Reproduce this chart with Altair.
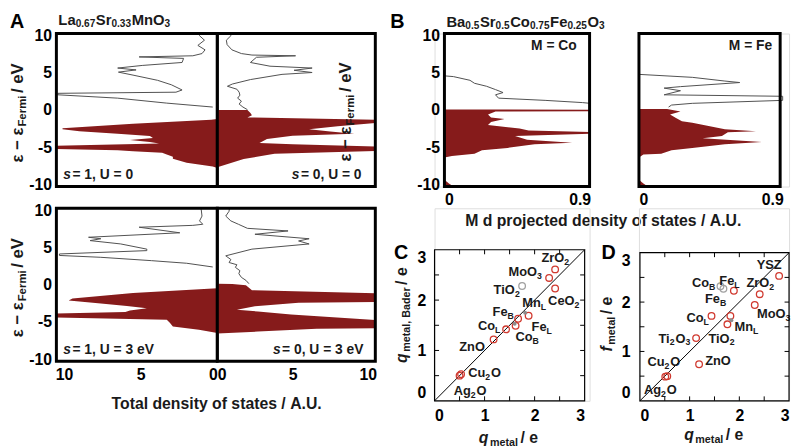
import altair as alt
import pandas as pd

FONT = "Liberation Sans"
FILL = "#861b1b"
LINE = "#4f4f4f"
RED = "#d0392f"
GRAY = "#a0a0a0"
INK = "#1a1a1a"
NB = "\u00a0"

# ---------------- Panel A : total DOS (E in eV, DOS in A.U.) ----------------
# s = 1, U = 0 (left half, top)
A_TL_LINE_E = [10.3, 10.0, 9.4, 8.7, 8.1, 7.6, 7.3, 7.15, 6.95, 6.4, 6.0, 5.65, 5.4, 5.1, 4.7, 4.0, 3.4, 2.7, 2.4, 2.25, 2.05, 1.6, 0.93, 0.4]
A_TL_LINE_D = [1.2, 1.16, 0.84, 1.27, 0.8, 1.0, 1.6, 5.1, 2.2, 2.3, 4.9, 6.5, 5.3, 6.45, 5.5, 3.9, 3.0, 2.3, 2.7, 10.4, 10.4, 6.5, 3.3, 0.3]
A_TL_FILL_E = [-1.2, -1.3, -1.83, -2.45, -2.6, -2.85, -3.2, -3.5, -3.75, -4.05, -4.3, -4.5, -4.8, -5.25, -5.4, -5.55, -5.75, -6.0, -6.3, -6.55, -7.1, -7.6, -7.8]
A_TL_FILL_D = [0.0, 0.4, 5.5, 10.1, 10.1, 9.0, 6.5, 4.4, 4.2, 5.7, 4.4, 3.8, 10.5, 10.5, 6.5, 5.5, 3.6, 3.3, 2.9, 2.9, 2.0, 0.3, 0.0]
# s = 0, U = 0 (right half, top)
A_TR_LINE_E = [10.3, 10.0, 9.4, 8.8, 8.1, 7.6, 7.4, 7.3, 7.1, 6.4, 5.9, 5.65, 5.35, 5.05, 4.8, 4.1, 3.5, 3.2, 2.8, 2.4, 2.0, 1.6, 1.2, 0.8, 0.4, 0.05]
A_TR_LINE_D = [0.9, 0.9, 0.6, 0.65, 0.97, 1.6, 2.3, 5.2, 2.6, 2.2, 3.5, 6.3, 5.1, 6.3, 4.3, 2.2, 1.0, 0.67, 1.3, 1.45, 1.5, 1.35, 1.6, 1.45, 1.7, 2.0]
A_TR_FILL_E = [0.02, 0.0, -0.4, -0.7, -1.0, -1.3, -1.75, -2.2, -2.6, -2.9, -3.2, -3.45, -3.9, -4.45, -4.6, -4.9, -5.5, -5.9, -6.6, -7.7]
A_TR_FILL_D = [0.0, 2.0, 2.2, 2.3, 2.0, 10.5, 10.5, 8.0, 6.1, 7.5, 9.1, 5.0, 3.3, 2.8, 5.0, 10.5, 10.5, 3.8, 1.75, 0.0]
# s = 1, U = 3 eV (left half, bottom)
A_BL_LINE_E = [10.3, 10.1, 9.25, 8.6, 8.15, 8.0, 7.75, 7.0, 6.4, 6.2, 5.95, 5.5, 4.8, 4.6, 4.15, 3.95, 3.7, 3.25, 2.9, 2.4]
A_BL_LINE_D = [1.1, 1.05, 1.0, 1.16, 0.95, 1.6, 5.1, 2.45, 8.4, 7.6, 8.3, 6.3, 4.6, 4.6, 10.3, 10.3, 7.6, 4.3, 2.0, 0.3]
A_BL_FILL_E = [-0.45, -1.1, -1.85, -2.1, -2.5, -2.85, -3.15, -3.45, -3.65, -3.85, -4.4, -4.7, -5.1, -5.6, -6.05, -6.5]
A_BL_FILL_D = [0.0, 5.5, 9.45, 9.7, 7.6, 5.9, 4.6, 5.7, 6.0, 10.5, 10.5, 3.3, 3.1, 2.9, 1.2, 0.0]
# s = 0, U = 3 eV (right half, bottom)
A_BR_LINE_E = [10.3, 9.9, 9.25, 8.6, 8.15, 7.6, 7.25, 6.8, 6.2, 5.9, 5.5, 4.8, 3.9, 3.4, 3.0, 2.7, 2.35, 1.9, 1.5, 1.0, 0.6, 0.15]
A_BR_LINE_D = [0.8, 0.78, 0.56, 0.9, 1.4, 2.0, 4.7, 2.5, 6.1, 5.4, 6.1, 2.3, 0.56, 0.9, 0.78, 1.3, 1.2, 1.5, 1.43, 1.6, 1.9, 2.1]
A_BR_FILL_E = [0.15, 0.1, -0.07, -0.73, -1.15, -2.3, -2.4, -2.9, -3.35, -3.6, -4.0, -4.75, -5.85, -5.9, -6.3, -6.55]
A_BR_FILL_D = [0.0, 1.0, 1.9, 2.3, 10.5, 10.5, 5.4, 2.5, 1.3, 2.7, 4.9, 10.5, 10.5, 6.6, 2.7, 0.0]

# ---------------- Panel B : M d projected DOS ----------------
B_CO_LINE_E = [4.6, 4.5, 4.0, 3.6, 3.2, 2.75, 2.35, 2.05, 1.6, 1.3, 1.0, 0.9]
B_CO_LINE_D = [0.0, 0.06, 0.17, 0.2, 0.28, 0.34, 0.39, 0.34, 0.36, 0.67, 0.92, 0.97]
B_CO_FILL_E = [0.08, 0.05, -0.15, -0.2, -0.6, -1.0, -1.2, -1.6, -2.0, -2.5, -2.75, -2.95, -3.2, -3.5, -4.0, -4.4, -4.6, -5.1, -5.4, -5.9, -6.2, -6.4, -9.4, -9.9, -10.3]
B_CO_FILL_D = [0.0, 0.97, 0.97, 0.34, 0.29, 0.31, 0.4, 0.31, 0.29, 0.5, 0.56, 0.97, 0.97, 0.47, 0.55, 0.85, 0.6, 0.42, 0.25, 0.2, 0.05, 0.0, 0.0, 0.03, 0.06]
B_FE_LINE_E = [4.8, 4.4, 3.9, 3.7, 3.15, 2.95, 2.6, 2.05, 1.85, 1.3, 0.9, 0.67, 0.4]
B_FE_LINE_D = [0.0, 0.36, 0.58, 0.68, 0.28, 0.17, 0.28, 0.17, 0.97, 0.97, 0.36, 0.22, 0.2]
B_FE_FILL_E = [0.15, 0.13, -0.2, -0.6, -1.07, -1.5, -1.7, -2.6, -2.85, -3.0, -3.5, -3.8, -4.3, -4.6, -5.1, -5.4, -5.9, -6.0, -6.4, -9.4, -9.9, -10.3]
B_FE_FILL_D = [0.0, 0.19, 0.28, 0.21, 0.25, 0.29, 0.36, 0.58, 0.79, 0.6, 0.56, 0.43, 0.83, 0.58, 0.36, 0.22, 0.15, 0.03, 0.0, 0.0, 0.03, 0.06]

# ---------------- Panel C : q_metal,Bader vs q_metal ----------------
C_RED_X = [2.41, 2.29, 2.41, 1.88, 1.67, 1.43, 1.62, 1.18, 0.50, 0.53]
C_RED_Y = [2.61, 2.44, 2.23, 1.69, 1.63, 1.42, 1.49, 1.22, 0.50, 0.53]
C_GOPEN_X = [1.75]
C_GOPEN_Y = [2.28]
C_GDOT_X = [1.81, 1.60]
C_GDOT_Y = [1.75, 1.53]
C_LAB = ["ZrO_2", "MoO_3", "TiO_2", "Mn_L", "CeO_2", "Fe_B", "Co_L", "Fe_L", "Co_B", "ZnO", "Cu_2O", "Ag_2O"]
C_LAB_X = [2.42, 1.82, 1.45, 2.00, 2.59, 1.38, 1.10, 2.15, 1.86, 0.75, 1.00, 0.71]
C_LAB_Y = [2.84, 2.55, 2.20, 1.94, 1.98, 1.76, 1.49, 1.47, 1.27, 1.06, 0.55, 0.20]

# ---------------- Panel D : f_metal vs q_metal ----------------
D_RED_X = [2.80, 2.41, 2.31, 1.89, 1.44, 1.82, 1.76, 1.13, 1.19, 0.51, 0.55]
D_RED_Y = [2.53, 2.16, 1.94, 2.23, 1.72, 1.72, 1.55, 1.27, 0.74, 0.49, 0.50]
D_GOPEN_X = [1.62, 1.68]
D_GOPEN_Y = [2.32, 2.27]
D_GDOT_X = [1.84]
D_GDOT_Y = [1.63]
D_LAB = ["YSZ", "ZrO_2", "MoO_3", "Co_B", "Fe_L", "Fe_B", "Co_L", "Mn_L", "TiO_2", "Ti_2O_3", "Cu_2O", "ZnO", "Ag_2O"]
D_LAB_X = [2.60, 2.43, 2.70, 1.29, 1.81, 1.53, 1.17, 2.15, 1.65, 0.70, 0.48, 1.57, 0.41]
D_LAB_Y = [2.74, 2.38, 1.76, 2.38, 2.42, 2.06, 1.68, 1.50, 1.26, 1.26, 0.78, 0.80, 0.22]

SCATTER_TICKS = [0.5, 1.0, 1.5, 2.0, 2.5]

# ---------------- helpers ----------------
ONE = pd.DataFrame({"k": [0]})
SUB = 0.68

CW = {' ': 278, NB: 278, ',': 278, '-': 333, '.': 278, '/': 278, '=': 584, '−': 584, 'ε': 500,
      'A': 722, 'B': 722, 'C': 722, 'D': 722, 'E': 667, 'F': 611, 'L': 611, 'M': 833,
      'O': 778, 'S': 667, 'T': 611, 'U': 722, 'V': 667, 'Y': 667, 'Z': 611,
      'a': 556, 'b': 611, 'c': 556, 'd': 611, 'e': 556, 'f': 333, 'g': 611, 'i': 278,
      'j': 278, 'l': 278, 'm': 889, 'n': 611, 'o': 611, 'p': 611, 'q': 611, 'r': 389,
      's': 556, 't': 333, 'u': 611, 'y': 556, 'z': 500}
for _d in "0123456789":
    CW[_d] = 556


def tw(s, size):
    return sum(CW.get(c, 556) for c in s) * size / 1000.0


def parse(label):
    pieces, buf, i = [], "", 0
    while i < len(label):
        if label[i] == "_":
            if buf:
                pieces.append((buf, "n"))
                buf = ""
            pieces.append((label[i + 1], "s"))
            i += 2
        else:
            buf += label[i]
            i += 1
    if buf:
        pieces.append((buf, "n"))
    return pieces


def rich_px(pieces, x, y, size, align="left", angle=0, color=INK, sub_gap=1.2):
    pieces = [(t.replace(" ", NB), st) for t, st in pieces]
    sizes = [size * SUB if st == "s" else size for _, st in pieces]
    extra = {"i": 1.5, "s": sub_gap, "n": 0.0}
    widths = [tw(t, sz) + extra[st] for (t, st), sz in zip(pieces, sizes)]
    total = sum(widths)
    off = {"left": 0.0, "center": -total / 2, "right": -total}[align]
    layers = []
    for (t, st), sz, w in zip(pieces, sizes, widths):
        kw = dict(text=t, font=FONT, fontSize=sz, fontWeight="bold", align="left",
                  baseline="middle", color=color, dx=off)
        if angle:
            kw["angle"] = angle
        if st == "s":
            kw["dy"] = size * 0.3
        if st == "i":
            kw["fontStyle"] = "italic"
        layers.append(alt.Chart(ONE).mark_text(**kw).encode(x=alt.value(x), y=alt.value(y)))
        off += w
    return layers


def letter(ch, x, y):
    return alt.Chart(ONE).mark_text(text=ch, font=FONT, fontSize=20, fontWeight="bold",
                                    align="left", baseline="top", color="black").encode(
        x=alt.value(x), y=alt.value(y))


def frame(width, x0=0, x1="width", y0=0, y1="height"):
    return alt.Chart(ONE).mark_rect(fillOpacity=0, stroke="black", strokeWidth=width).encode(
        x=alt.value(x0), x2=alt.value(x1), y=alt.value(y0), y2=alt.value(y1))


def axis(values, pad, show=True, offset=None):
    if not show:
        return None
    kw = dict(values=values, labelExpr="'' + datum.value", ticks=False, tickSize=0,
              domain=False, grid=False, labelPadding=pad, title="", labelFont=FONT,
              labelFontSize=16, labelFontWeight="bold", labelColor="black",
              labelFlush=True, labelOverlap=False)
    if offset is not None:
        kw["offset"] = offset
    return alt.Axis(**kw)


EPS = [("ε − ε", "n"), ("Fermi", "s"), (" / eV", "n")]


def dos_panel(fe, fd, le, ld, w, h, dmax, yshow, xvals, extra, xshow,
              reverse=False, xr=None, yoff=None, box=None):
    if xr is None:
        xs = alt.Scale(domain=[0, dmax], reverse=reverse, nice=False, zero=False)
    else:
        xs = alt.Scale(domain=[0, dmax], range=xr, nice=False, zero=False)
    ys = alt.Scale(domain=[-10.3, 10.3], nice=False, zero=False)
    xa = axis(xvals, 5, xshow)
    ya = axis([-10, -5, 0, 5, 10], 5, yshow, yoff)
    fill = pd.DataFrame({"E": fe, "D": fd})
    line = pd.DataFrame({"E": le, "D": ld, "i": list(range(len(le)))})
    area = alt.Chart(fill).mark_area(orient="horizontal", color=FILL, clip=True).encode(
        x=alt.X("D:Q", scale=xs, axis=xa, stack=None),
        y=alt.Y("E:Q", scale=ys, axis=ya))
    ln = alt.Chart(line).mark_line(color=LINE, strokeWidth=1, clip=True).encode(
        x=alt.X("D:Q", scale=xs, axis=xa, stack=None),
        y=alt.Y("E:Q", scale=ys, axis=ya),
        order=alt.Order("i:Q"))
    fr = frame(3) if box is None else frame(3, *box)
    return alt.layer(area, ln, *extra, fr).properties(width=w, height=h)


def s_label(s_val, u_val, x, y, align):
    return rich_px([("s", "i"), (" = %s, U = %s" % (s_val, u_val), "n")], x, y, 14, align=align)


def scatter_panel(w, h, xr, yr, rx, ry, gx, gy, dx_, dy_, labs, lx, ly, extra):
    xsc = alt.Scale(domain=[0, 3], range=xr, nice=False, zero=False)
    ysc = alt.Scale(domain=[0, 3], range=yr, nice=False, zero=False)
    xa = axis([0, 1, 2, 3], 7)
    ya = axis([0, 1, 2, 3], 9)

    def enc(ch):
        return ch.encode(x=alt.X("x:Q", scale=xsc, axis=xa), y=alt.Y("y:Q", scale=ysc, axis=ya))

    diag = enc(alt.Chart(pd.DataFrame({"x": [0, 3], "y": [0, 3]})).mark_line(color="black", strokeWidth=1))
    rows = []
    for t in SCATTER_TICKS:
        rows += [dict(x=t, y=0, x2=t, y2=0.09), dict(x=t, y=3, x2=t, y2=2.91),
                 dict(x=0, y=t, x2=0.09, y2=t), dict(x=3, y=t, x2=2.91, y2=t)]
    ticks = alt.Chart(pd.DataFrame(rows)).mark_rule(color="black", strokeWidth=1).encode(
        x=alt.X("x:Q", scale=xsc, axis=xa), y=alt.Y("y:Q", scale=ysc, axis=ya), x2="x2:Q", y2="y2:Q")
    red = enc(alt.Chart(pd.DataFrame({"x": rx, "y": ry})).mark_point(
        shape="circle", filled=False, color=RED, size=45, strokeWidth=1.3, opacity=1))
    gop = enc(alt.Chart(pd.DataFrame({"x": gx, "y": gy})).mark_point(
        shape="circle", filled=False, color=GRAY, size=45, strokeWidth=1.3, opacity=1))
    gdt = enc(alt.Chart(pd.DataFrame({"x": dx_, "y": dy_})).mark_point(
        shape="circle", filled=True, color="#8c8c8c", size=16, opacity=1))
    size = 13
    ppu = (xr[1] - xr[0]) / 3.0
    nrows, srows = [], []
    for lab, cx, cy in zip(labs, lx, ly):
        pcs = parse(lab)
        wds = [tw(t, size * (SUB if st == "s" else 1)) + (0.8 if st == "s" else 0) for t, st in pcs]
        off = -sum(wds) / 2
        for (t, st), wd in zip(pcs, wds):
            (srows if st == "s" else nrows).append({"x": cx + off / ppu, "y": cy, "t": t})
            off += wd
    tn = enc(alt.Chart(pd.DataFrame(nrows)).mark_text(
        font=FONT, fontSize=size, fontWeight="bold", align="left", baseline="middle", color=INK)).encode(text="t:N")
    ts = enc(alt.Chart(pd.DataFrame(srows)).mark_text(
        font=FONT, fontSize=size * SUB, fontWeight="bold", align="left", baseline="middle",
        color=INK, dy=size * 0.3)).encode(text="t:N")
    fr = frame(1.2, xr[0], xr[1], yr[1], yr[0])
    return alt.layer(ticks, diag, red, gop, gdt, tn, ts, *extra, fr).properties(width=w, height=h)


def spacer(w, h):
    return alt.Chart(ONE).mark_point(opacity=0).properties(width=w, height=h)


# ---------------- build panels ----------------
A_tl = dos_panel(A_TL_FILL_E, A_TL_FILL_D, A_TL_LINE_E, A_TL_LINE_D, 163, 155, 10.5, True, [0, 5, 10],
                 s_label("1", "0", 7, 143, "left")
                 + rich_px(EPS, -39, 78, 17, align="center", angle=270, sub_gap=2.5)
                 + rich_px([("La", "n"), ("0.67", "s"), ("Sr", "n"), ("0.33", "s"), ("MnO", "n"), ("3", "s")], 2, -14, 15, sub_gap=0.6)
                 + [letter("A", -47, -22)], False, reverse=True)
A_tr = dos_panel(A_TR_FILL_E, A_TR_FILL_D, A_TR_LINE_E, A_TR_LINE_D, 160, 155, 10.5, False, [0, 5, 10],
                 s_label("0", "0", 150, 143, "right"), False)
A_bl = dos_panel(A_BL_FILL_E, A_BL_FILL_D, A_BL_LINE_E, A_BL_LINE_D, 163, 155, 10.5, True, [0, 5, 10],
                 s_label("1", "3 eV", 7, 144, "left")
                 + rich_px(EPS, -39, 78, 17, align="center", angle=270, sub_gap=2.5)
                 + rich_px([("Total density of states / A.U.", "n")], 163, 198, 16, align="center"), True, reverse=True)
A_br = dos_panel(A_BR_FILL_E, A_BR_FILL_D, A_BR_LINE_E, A_BR_LINE_D, 160, 155, 10.5, False, [0, 5, 10],
                 s_label("0", "3 eV", 152, 144, "right"), True)

# Co panel: view 157 wide, plot from x=10 to x=157
B_co = dos_panel(B_CO_FILL_E, B_CO_FILL_D, B_CO_LINE_E, B_CO_LINE_D, 157, 155, 0.966, True, [0, 0.9],
                 rich_px([("M = Co", "n")], 144, 13, 14, align="right")
                 + rich_px(EPS, -90, 77, 17, align="center", angle=270, sub_gap=2.5)
                 + rich_px([("Ba", "n"), ("0.5", "s"), ("Sr", "n"), ("0.5", "s"), ("Co", "n"), ("0.75", "s"),
                            ("Fe", "n"), ("0.25", "s"), ("O", "n"), ("3", "s")], 12, -12, 15, sub_gap=0.6)
                 + rich_px([("M d projected density of states / A.U.", "n")], 171, 190, 16, align="center")
                 + [letter("B", -45, -22)], True, xr=[10, 157], yoff=-10, box=(10, "width", 0, "height"))
# Fe panel: view 152 wide, plot from x=0 to x=143
B_fe = dos_panel(B_FE_FILL_E, B_FE_FILL_D, B_FE_LINE_E, B_FE_LINE_D, 152, 155, 0.953, False, [0, 0.9],
                 rich_px([("M = Fe", "n")], 135, 13, 14, align="right"), True,
                 xr=[0, 143], box=(0, 143, 0, "height"))

# C: view 157x195, plot x 0..152, y 42..195
C_p = scatter_panel(157, 195, [0, 152], [195, 42], C_RED_X, C_RED_Y, C_GOPEN_X, C_GOPEN_Y, C_GDOT_X, C_GDOT_Y,
                    C_LAB, C_LAB_X, C_LAB_Y,
                    rich_px([("q", "i"), ("metal", "s"), (" / e", "n")], 77, 233, 16, align="center", sub_gap=2.5)
                    + rich_px([("q", "i"), ("metal, Bader", "s"), (" / e", "n")], -33, 106, 16, align="center", angle=270, sub_gap=2.5)
                    + [letter("C", -41, 35)])
# D: view 152x195, plot x 1..152, y 45..195
D_p = scatter_panel(152, 195, [1, 152], [195, 45], D_RED_X, D_RED_Y, D_GOPEN_X, D_GOPEN_Y, D_GDOT_X, D_GDOT_Y,
                    D_LAB, D_LAB_X, D_LAB_Y,
                    rich_px([("q", "i"), ("metal", "s"), (" / e", "n")], 78, 230, 16, align="center", sub_gap=2.5)
                    + rich_px([("f", "i"), ("metal", "s"), (" / e", "n")], -32, 115, 16, align="center", angle=270, sub_gap=2.5)
                    + [letter("D", -38, 35)])

grid = [A_tl, A_tr, spacer(60, 1), B_co, spacer(50, 1), B_fe,
        A_bl, A_br, spacer(60, 1), C_p, spacer(50, 1), D_p]

chart = alt.concat(*grid, columns=6, align="each", bounds="flush",
                   spacing={"row": 22, "column": 0}).properties(
    padding=0
).configure_view(stroke=None).configure(font=FONT)

chart.save("out.html", embed_options={"renderer": "svg", "actions": False})
